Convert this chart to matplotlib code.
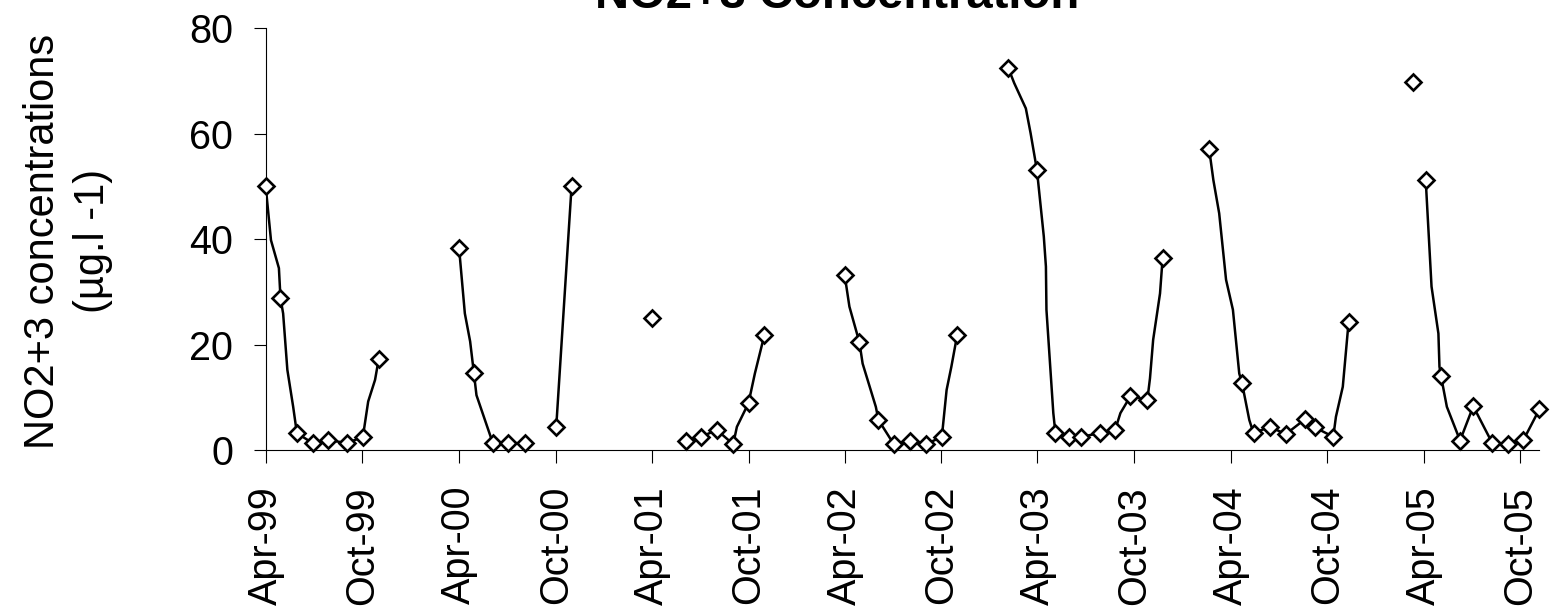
import pandas as pd
import matplotlib
matplotlib.use("Agg")
import matplotlib.pyplot as plt

# weekly NO2+3 record; sampled = 1 marks the points drawn with a diamond
dates = [
    "1999-04-01", "1999-04-11", "1999-04-26", "1999-04-29", "1999-05-04", "1999-05-12",
    "1999-05-23", "1999-05-30", "1999-06-29", "1999-07-28", "1999-09-02", "1999-10-02",
    "1999-10-12", "1999-10-25", "1999-11-01",
    "2000-04-01", "2000-04-12", "2000-04-22", "2000-04-29", "2000-05-04", "2000-06-04",
    "2000-07-03", "2000-08-03",
    "2000-10-02", "2000-10-31",
    "2001-04-01",
    "2001-06-04", "2001-07-03", "2001-08-02", "2001-09-02", "2001-09-09", "2001-10-01",
    "2001-10-13", "2001-10-31",
    "2002-04-01", "2002-04-10", "2002-04-29", "2002-05-05", "2002-05-30", "2002-06-04",
    "2002-07-03", "2002-08-03", "2002-09-02", "2002-10-02", "2002-10-11", "2002-10-20",
    "2002-10-31",
    "2003-02-05", "2003-02-16", "2003-03-10", "2003-03-19", "2003-03-31", "2003-04-13",
    "2003-04-17", "2003-04-18", "2003-05-01", "2003-05-05", "2003-05-31", "2003-06-23",
    "2003-07-28", "2003-08-26", "2003-09-05", "2003-09-24", "2003-10-26", "2003-10-31",
    "2003-11-06", "2003-11-19", "2003-11-24",
    "2004-02-20", "2004-02-28", "2004-03-10", "2004-03-23", "2004-04-05", "2004-04-17",
    "2004-04-22", "2004-05-06", "2004-05-14", "2004-06-14", "2004-07-14", "2004-08-19",
    "2004-09-07", "2004-10-12", "2004-10-17", "2004-10-30", "2004-11-10",
    "2005-03-11",
    "2005-04-05", "2005-04-16", "2005-04-29", "2005-05-01", "2005-05-04", "2005-05-15",
    "2005-06-09", "2005-07-04", "2005-08-09", "2005-09-07", "2005-10-07", "2005-11-06",
]
no23 = [
    50.0, 39.8, 34.5, 28.8, 25.9, 15.2, 8.2, 3.2, 1.3, 1.9, 1.3, 2.5, 9.2, 13.3, 17.3,
    38.4, 25.9, 20.6, 14.7, 10.4, 1.3, 1.3, 1.3,
    4.4, 50.0,
    25.0,
    1.8, 2.5, 3.8, 1.1, 4.4, 8.9, 14.5, 21.8,
    33.2, 27.2, 20.4, 16.4, 8.2, 5.7, 1.1, 1.8, 1.1, 2.5, 11.4, 15.8, 21.8,
    72.4, 69.6, 64.8, 60.1, 53.1, 40.5, 34.8, 26.6, 7.0, 3.2, 2.5, 2.5, 3.2, 3.8, 7.0,
    10.2, 9.5, 13.6, 20.9, 29.7, 36.5,
    57.1, 51.2, 44.9, 32.3, 26.6, 14.5, 12.8, 5.7, 3.2, 4.4, 3.0, 5.8, 4.3, 2.5, 6.3,
    12.0, 24.3,
    69.9,
    51.2, 31.0, 22.1, 15.8, 14.0, 8.2, 1.8, 8.3, 1.3, 1.1, 1.9, 7.7,
]
segment = ([1] * 15 + [2] * 8 + [3] * 2 + [4] + [5] * 8 + [6] * 13 + [7] * 21
           + [8] * 17 + [9] + [10] * 12)
sampled = [
    1, 0, 0, 1, 0, 0, 0, 1, 1, 1, 1, 1, 0, 0, 1,
    1, 0, 0, 1, 0, 1, 1, 1,
    1, 1,
    1,
    1, 1, 1, 1, 0, 1, 0, 1,
    1, 0, 1, 0, 0, 1, 1, 1, 1, 1, 0, 0, 1,
    1, 0, 0, 0, 1, 0, 0, 0, 0, 1, 1, 1, 1, 1, 0, 1, 1, 0, 0, 0, 1,
    1, 0, 0, 0, 0, 0, 1, 0, 1, 1, 1, 1, 1, 1, 0, 0, 1,
    1,
    1, 0, 0, 0, 1, 0, 1, 1, 1, 1, 1, 1,
]
y_ticks = [0, 20, 40, 60, 80]

plt.rcParams['font.family'] = ['Liberation Sans', 'DejaVu Sans']

df = pd.DataFrame({"date": pd.to_datetime(dates), "value": no23,
                   "seg": segment, "sampled": sampled})

W, H = 1554, 613
fig = plt.figure(figsize=(W / 100, H / 100), dpi=100)
ax = fig.add_axes([265.7 / W, 1 - 450 / H, (1539.3 - 265.7) / W, (450 - 28.3) / H])

# line broken into runs where there are no gaps
for s, g in df.groupby("seg"):
    ax.plot(g["date"], g["value"], color="black", lw=1.8, solid_joinstyle="round")

pts = df[df["sampled"] == 1]
ax.plot(pts["date"], pts["value"], ls="none", marker="D", ms=8, mfc="white",
        mec="black", mew=1.9, clip_on=False, zorder=3)

ax.set_ylim(0, 80)
ax.set_yticks(y_ticks)
ax.set_xlim(pd.Timestamp("1999-04-01"), pd.Timestamp("2005-11-06"))
xt = pd.date_range("1999-04-01", "2005-10-01", freq="6MS")
ax.set_xticks(xt)
ax.set_xticklabels([d.strftime("%b-%y") for d in xt], rotation=90)

for side in ["top", "right"]:
    ax.spines[side].set_visible(False)
for side in ["left", "bottom"]:
    ax.spines[side].set_linewidth(0.8)
    ax.spines[side].set_color("black")

ax.tick_params(axis="y", length=8.6, width=0.8, pad=15, labelsize=28.5)
ax.tick_params(axis="x", length=9.4, width=0.8, pad=16.5, labelsize=28.5)

fig.text(837 / W, 1 - 8 / H, "NO2+3 Concentration", ha="center", va="baseline",
         fontsize=34, fontweight="bold")
fig.text(68 / W, 1 - 241 / H, "NO2+3 concentrations\n(µg.l -1)", rotation=90,
         ha="center", va="center", multialignment="center", fontsize=30, linespacing=1.35)

fig.savefig("out.png", dpi=100)
